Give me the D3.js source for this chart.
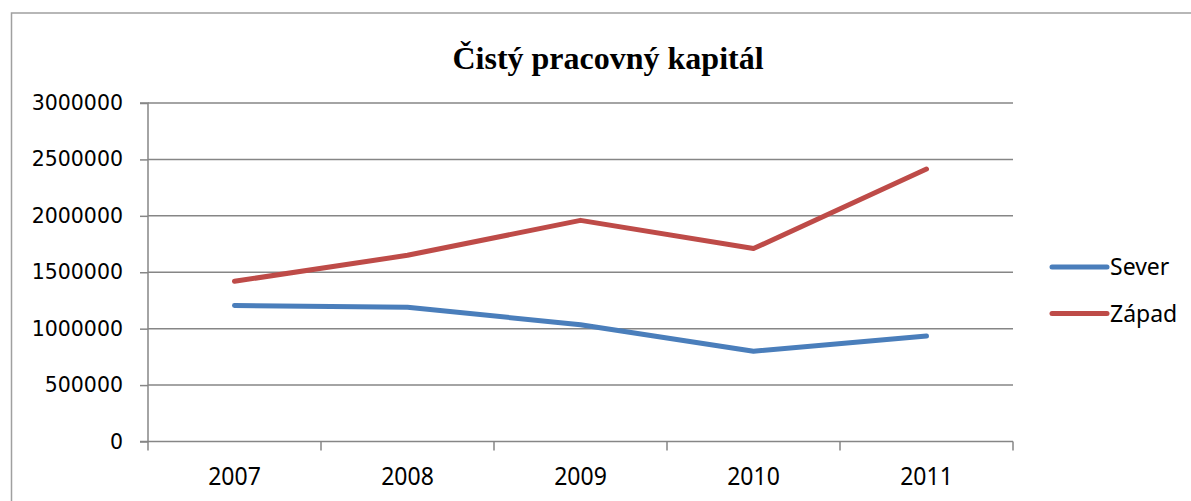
<!DOCTYPE html>
<html>
<head>
<meta charset="utf-8">
<script src="https://cdn.jsdelivr.net/npm/d3@7"></script>
<style>
  html, body { margin: 0; padding: 0; background: #fff; }
  svg { display: block; }
</style>
</head>
<body>
<svg id="chart" width="1191" height="501"></svg>
<script>
const title = "Čistý pracovný kapitál";
const categories = ["2007", "2008", "2009", "2010", "2011"];
const seriesNames = ["Sever", "Západ"];
const severValues = [1205000, 1190000, 1035000, 800000, 935000];
const zapadValues = [1420000, 1650000, 1960000, 1710000, 2415000];
const yTicks = [0, 500000, 1000000, 1500000, 2000000, 2500000, 3000000];
const colors = ["#4a7ebb", "#be4b48"];

const series = [
  { name: seriesNames[0], values: severValues, color: colors[0] },
  { name: seriesNames[1], values: zapadValues, color: colors[1] }
];

const svg = d3.select("#chart");
const grid = "#868686";

// outer frame (right and bottom edges lie outside the picture)
svg.append("rect")
  .attr("x", 11.5).attr("y", 13).attr("width", 1200).attr("height", 600)
  .attr("fill", "none").attr("stroke", "#a0a0a0").attr("stroke-width", 1.5);

const plot = { left: 148, right: 1013, top: 103, bottom: 441.5 };

const x = d3.scaleBand().domain(categories).range([plot.left, plot.right]).paddingInner(0).paddingOuter(0);
const y = d3.scaleLinear().domain([0, 3000000]).range([plot.bottom, plot.top]);

// gridlines
svg.append("g").selectAll("line").data(yTicks.filter(d => d > 0)).join("line")
  .attr("x1", plot.left).attr("x2", plot.right)
  .attr("y1", d => y(d)).attr("y2", d => y(d))
  .attr("stroke", grid).attr("stroke-width", 1.5);

// y axis
const yAxis = svg.append("g").attr("transform", `translate(${plot.left},0)`)
  .call(d3.axisLeft(y).tickValues(yTicks).tickSize(8).tickPadding(17).tickFormat(d3.format("d")));
yAxis.select(".domain").attr("stroke", grid).attr("stroke-width", 1.5).attr("d", `M-8,${plot.top}H0V${plot.bottom}H-8`);
yAxis.selectAll(".tick line").attr("stroke", grid).attr("stroke-width", 1.5);
yAxis.selectAll(".tick text").attr("font-family", "DejaVu Sans").attr("font-size", 20.5).attr("fill", "#000");

// x axis
const xAxis = svg.append("g").attr("transform", `translate(0,${plot.bottom})`)
  .call(d3.axisBottom(x).tickSize(0).tickPadding(0));
xAxis.select(".domain").attr("stroke", grid).attr("stroke-width", 1.5).attr("d", `M${plot.left},0H${plot.right}`);
const bounds = categories.map(c => x(c)).concat([x(categories[categories.length - 1]) + x.bandwidth()]);
xAxis.selectAll(".bound").data(bounds).join("line").attr("class", "bound")
  .attr("x1", d => d).attr("x2", d => d).attr("y1", 0).attr("y2", 9)
  .attr("stroke", grid).attr("stroke-width", 1.5);
xAxis.selectAll(".tick text")
  .attr("font-family", "Noto Sans").attr("font-size", 23).attr("fill", "#000")
  .attr("dy", null).attr("y", 0)
  .attr("transform", "translate(0,43.5) scale(1,1.1)");

// lines
const line = d3.line().x((d, i) => x(categories[i]) + x.bandwidth() / 2).y(d => y(d));
svg.append("g").selectAll("path").data(series).join("path")
  .attr("d", d => line(d.values))
  .attr("fill", "none").attr("stroke", d => d.color).attr("stroke-width", 5)
  .attr("stroke-linecap", "round").attr("stroke-linejoin", "round");

// legend
const legend = svg.append("g").selectAll("g").data(series).join("g")
  .attr("transform", (d, i) => `translate(1052,${267 + i * 46.5})`);
legend.append("line").attr("x1", 0).attr("x2", 55).attr("y1", 0).attr("y2", 0)
  .attr("stroke", d => d.color).attr("stroke-width", 5).attr("stroke-linecap", "round");
legend.append("text").attr("x", 58).attr("y", 0).attr("dy", "0.35em")
  .attr("font-family", "Noto Sans").attr("font-size", 23).attr("fill", "#000")
  .text(d => d.name);

// title
svg.append("text").attr("x", 608).attr("y", 69).attr("text-anchor", "middle")
  .attr("font-family", "Liberation Serif").attr("font-weight", "bold").attr("font-size", 32)
  .attr("fill", "#000").text(title);
</script>
</body>
</html>
